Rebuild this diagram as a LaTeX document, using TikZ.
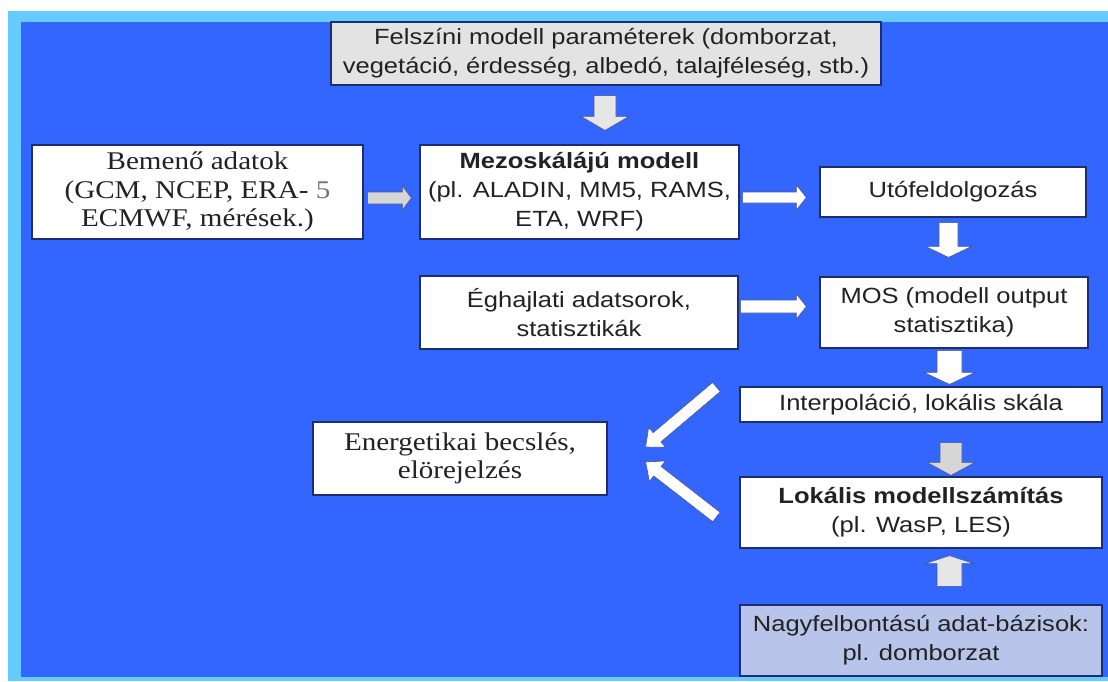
\documentclass[tikz,border=0pt]{standalone}
\usepackage{fontspec}
\usetikzlibrary{calc}
\newfontfamily\arialf[FakeStretch=1.16]{Liberation Sans}
\newfontfamily\timesf[FakeStretch=1.14]{Liberation Serif}
\definecolor{mainblue}{HTML}{3366FF}
\definecolor{lightblue}{HTML}{66CCFF}
\definecolor{boxedge}{HTML}{1E2D6E}
\definecolor{txt}{HTML}{222222}
\definecolor{felszfill}{HTML}{E3E3E3}
\definecolor{nagyfill}{HTML}{B8C4EA}
\definecolor{arrgray}{HTML}{D6D6D6}
\definecolor{arrlight}{HTML}{E6E6E6}
\tikzset{
  box/.style={draw=boxedge, line width=1.2pt, fill=white, text=txt, inner sep=0pt, align=center},
  sansbox/.style={box, font=\arialf\fontsize{22}{29}\selectfont},
  serifbox/.style={box, font=\timesf\fontsize{25.5}{28.5}\selectfont},
  arrowline/.style={draw=boxedge!80, line width=0.6pt, line join=miter}
}
\newcommand\blockarrow[6][white]{%
  \coordinate (bah) at ($(#3)!#6!(#2)$);
  \filldraw[arrowline, fill=#1] ($(#2)!#4!90:(#3)$) -- ($(bah)!#4!90:(#3)$) -- ($(bah)!#5!90:(#3)$) -- (#3) -- ($(bah)!#5!-90:(#3)$) -- ($(bah)!#4!-90:(#3)$) -- ($(#2)!#4!-90:(#3)$) -- cycle;
}
\begin{document}
\begin{tikzpicture}[x=1pt,y=-1pt]
\useasboundingbox (0,0) rectangle (1108,681);
\fill[white] (0,0) rectangle (1108,681);
\fill[lightblue] (8,11) rectangle (1108,681);
\fill[mainblue] (21,22) rectangle (1108,677);

\node[sansbox, fill=felszfill, minimum width=550pt, minimum height=63pt] (felsz) at (606,53.5)
  {Felszíni modell paraméterek (domborzat,\\vegetáció, érdesség, albedó, talajféleség, stb.)};
\node[serifbox, minimum width=331pt, minimum height=94pt] (bemeno) at (197.5,192)
  {Bemenő adatok\\(GCM, NCEP, ERA- \textcolor{black!55}{5}\\ECMWF, mérések.)};
\node[sansbox, minimum width=319pt, minimum height=94pt] (meso) at (579.5,192)
  {\textbf{Mezoskálájú modell}\\(pl. ALADIN, MM5, RAMS,\\ETA, WRF)};
\node[sansbox, minimum width=266pt, minimum height=50pt] (uto) at (953,192)
  {Utófeldolgozás};
\node[sansbox, minimum width=318pt, minimum height=73pt] (eghaj) at (579,312.5)
  {Éghajlati adatsorok,\\statisztikák};
\node[sansbox, minimum width=268pt, minimum height=71pt] (mos) at (954,312.5)
  {MOS (modell output\\statisztika)};
\node[sansbox, minimum width=362pt, minimum height=35pt] (interp) at (921,404.5)
  {Interpoláció, lokális skála};
\node[serifbox, minimum width=294pt, minimum height=73pt] (energ) at (460,458.5)
  {Energetikai becslés,\\elörejelzés};
\node[sansbox, minimum width=362pt, minimum height=71pt] (lokal) at (921,512.5)
  {\textbf{Lokális modellszámítás}\\(pl. WasP, LES)};
\node[sansbox, fill=nagyfill, minimum width=362pt, minimum height=71pt] (nagy) at (921,640.5)
  {Nagyfelbontású adat-bázisok:\\pl. domborzat};

% arrow end points
\coordinate (a1s) at ($(felsz.south)+(-1,10)$);
\coordinate (a1e) at ($(a1s |- meso.north)+(0,-14)$);
\coordinate (a2s) at ($(bemeno.east)+(4,6)$);
\coordinate (a2e) at ($(a2s -| meso.west)+(-8,0)$);
\coordinate (a3s) at ($(meso.east)+(3,5.5)$);
\coordinate (a3e) at ($(a3s -| uto.west)+(-13,0)$);
\coordinate (a4s) at ($(uto.south)+(-4.5,5)$);
\coordinate (a4e) at ($(a4s |- mos.north)+(0,-19)$);
\coordinate (a5s) at ($(eghaj.east)+(2,-6)$);
\coordinate (a5e) at ($(a5s -| mos.west)+(-13,0)$);
\coordinate (a6s) at ($(mos.south)+(-4.5,2)$);
\coordinate (a6e) at ($(a6s |- interp.north)+(0,-2)$);
\coordinate (a7s) at ($(interp.south)+(30,20)$);
\coordinate (a7e) at ($(a7s |- lokal.north)+(0,-1)$);
\coordinate (a8s) at ($(nagy.north)+(28.5,-18)$);
\coordinate (a8e) at ($(a8s |- lokal.south)+(0,7)$);
\coordinate (a9s) at ($(interp.west)+(-23,-17.5)$);
\coordinate (a9e) at ($(energ.east)+(38,-11.5)$);
\coordinate (a10s) at ($(lokal.west)+(-23,4.5)$);
\coordinate (a10e) at ($(energ.east)+(38,3.5)$);

\blockarrow[arrlight]{a1s}{a1e}{11pt}{24pt}{14pt}
\blockarrow[arrgray]{a2s}{a2e}{6pt}{12pt}{9pt}
\blockarrow{a3s}{a3e}{5.5pt}{12.5pt}{10pt}
\blockarrow{a4s}{a4e}{9.5pt}{23pt}{11pt}
\blockarrow{a5s}{a5e}{6.5pt}{12.5pt}{10pt}
\blockarrow{a6s}{a6e}{12.5pt}{25.5pt}{12pt}
\blockarrow[arrgray]{a7s}{a7e}{11pt}{24pt}{13pt}
\blockarrow[arrlight]{a8s}{a8e}{12.5pt}{24.5pt}{8pt}
\blockarrow{a9s}{a9e}{6pt}{13pt}{15pt}
\blockarrow{a10s}{a10e}{6pt}{13pt}{15pt}
\end{tikzpicture}
\end{document}
